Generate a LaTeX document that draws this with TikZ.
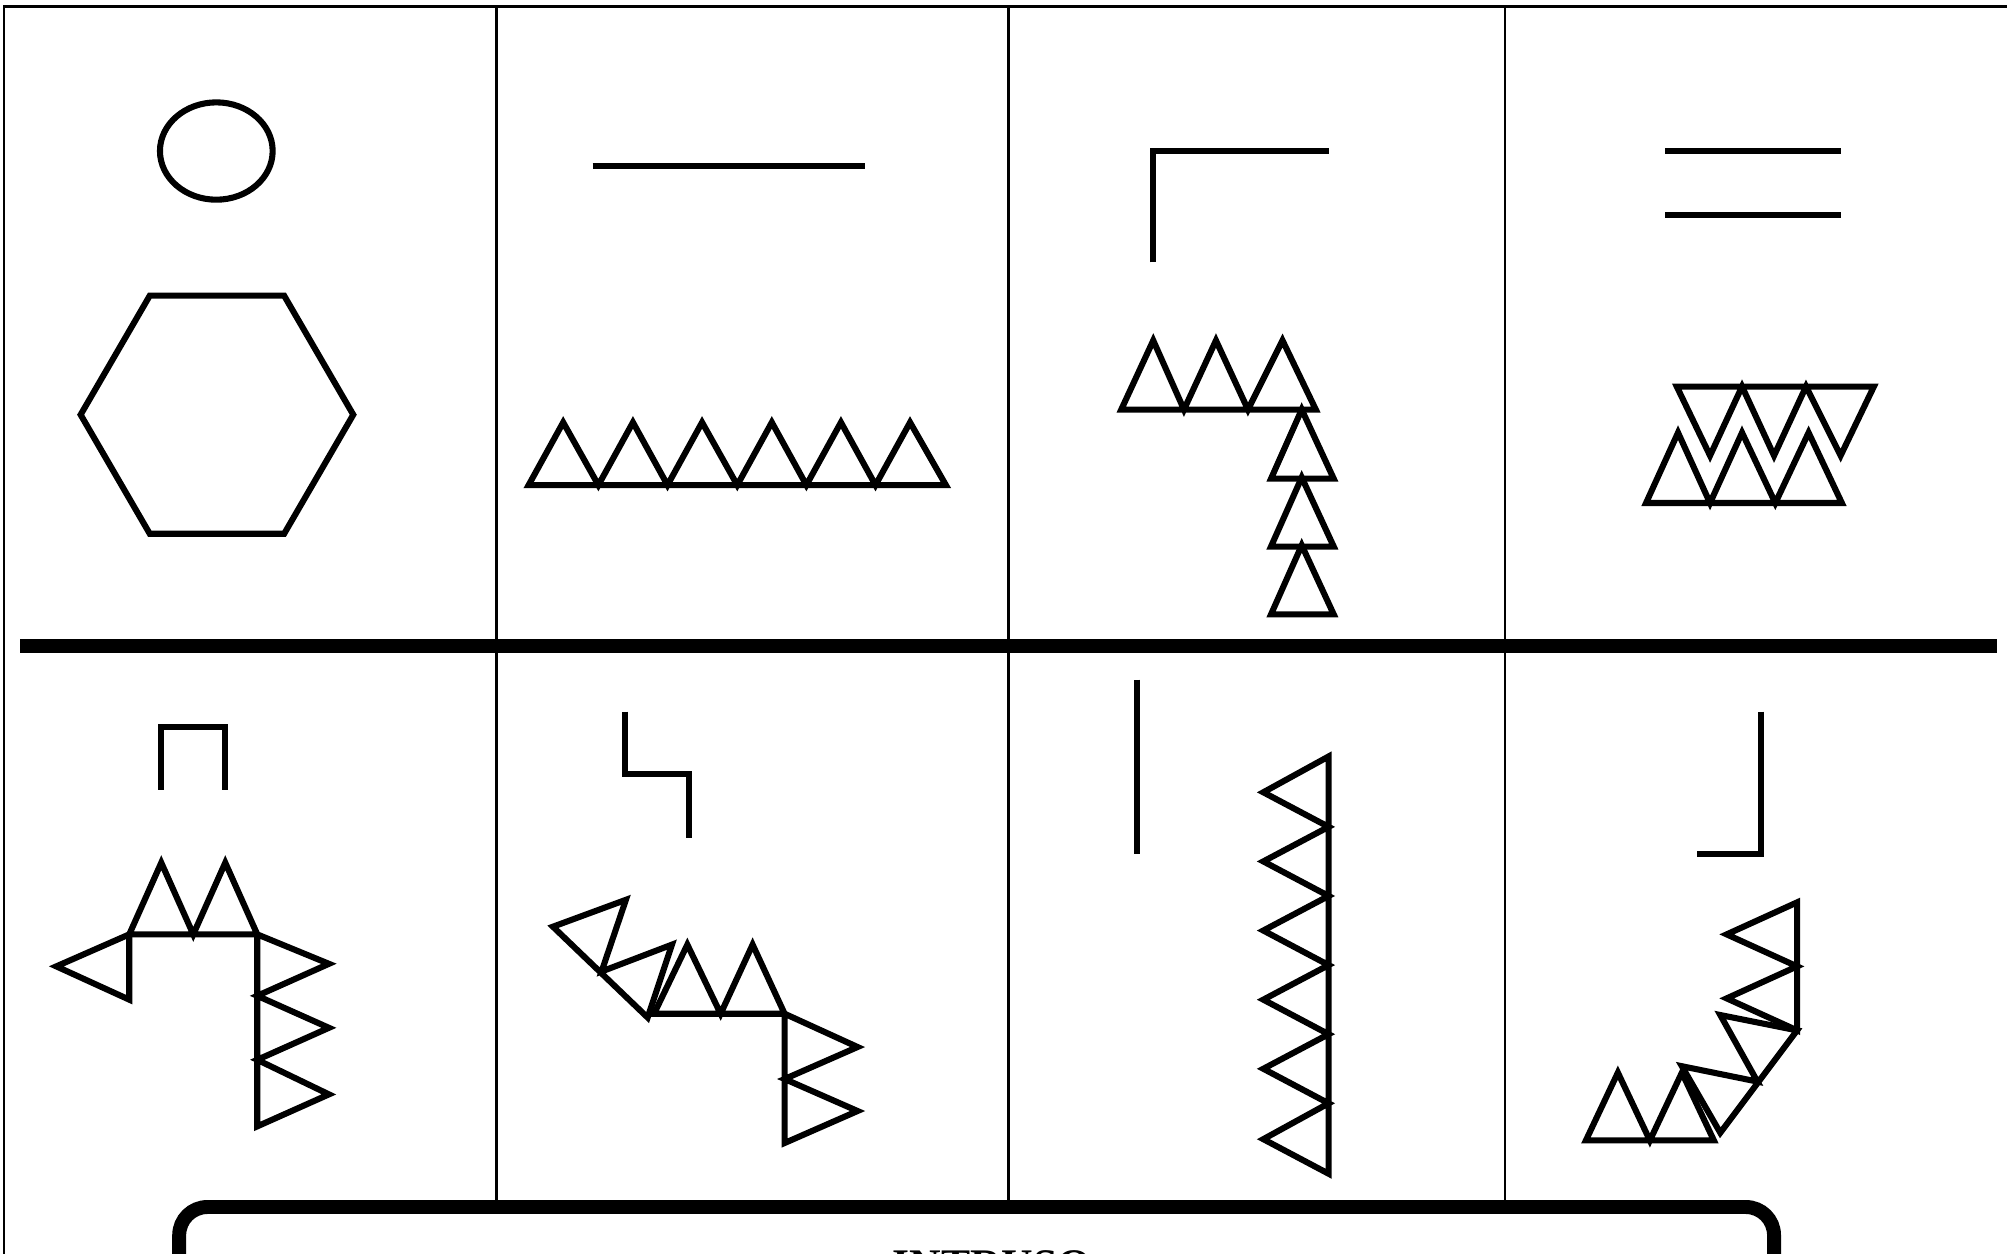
\documentclass[tikz,border=0pt]{standalone}
\usepackage{fontspec}
\setmainfont{Liberation Serif}
\begin{document}
\begin{tikzpicture}[
        x=0.01cm, y=-0.01cm,
        grid/.style={line width=0.55pt},
        bar/.style={line width=3.1pt},
        glyph/.style={line width=1.35pt},
        answer/.style={line width=3.1pt, rounded corners=0.22cm},
        label/.style={anchor=north, inner sep=0pt, font=\fontsize{9.7}{11}\selectfont\bfseries}
    ]
        \useasboundingbox (0,0) rectangle (1568,979);
        \clip (0,0) rectangle (1568,979);

        \draw[grid] (3,1000) -- (3,5) -- (1600,5);
        \draw[grid] (388,5) -- (388,943);
        \draw[grid] (788,5) -- (788,943);
        \draw[grid] (1176,5) -- (1176,943);
        \draw[bar] (16,505) -- (1560,505);

        \draw[glyph] (169,118) ellipse [x radius=0.44cm, y radius=0.38cm];
        \draw[glyph] (117,231) -- (222,231) -- (276,324) -- (222,417) -- (117,417) -- (63,324) -- cycle;

        \draw[glyph] (463,130) -- (676,130);
        \draw[glyph] (413,379) -- (440,330) -- (467.5,379) -- (494.5,330) -- (521.5,379) -- (548.5,330) -- (576,379)
            -- (603,330) -- (630,379) -- (657,330) -- (684,379) -- (711,330) -- (739,379) -- cycle;

        \draw[glyph] (901,205) -- (901,118) -- (1038,118);
        \draw[glyph] (876,320) -- (901,266) -- (925,320) -- (950,266) -- (975,320) -- (1002,266) -- (1028,320) -- cycle;
        \draw[glyph] (993,374) -- (1017,320) -- (1042,374) -- cycle;
        \draw[glyph] (993,427) -- (1017,373) -- (1042,427) -- cycle;
        \draw[glyph] (993,480) -- (1017,426) -- (1042,480) -- cycle;

        \draw[glyph] (1301,118) -- (1438,118);
        \draw[glyph] (1301,168) -- (1438,168);
        \draw[glyph] (1310,302) -- (1336,356) -- (1361,302) -- (1386,356) -- (1411,302) -- (1438,356) -- (1464,302) -- cycle;
        \draw[glyph] (1286,393) -- (1311,338) -- (1336,393) -- (1361,338) -- (1387,393) -- (1413,338) -- (1439,393) -- cycle;

        \draw[glyph] (126,617) -- (126,568) -- (176,568) -- (176,617);
        \draw[glyph] (101,730) -- (126,674) -- (151,730) -- (176,674) -- (201,730) -- cycle;
        \draw[glyph] (101,730) -- (44,755) -- (101,781) -- cycle;
        \draw[glyph] (201,730) -- (257,753) -- (201,778) -- (257,803) -- (201,828) -- (257,855) -- (201,880) -- cycle;

        \draw[glyph] (488,556) -- (488,605) -- (538,605) -- (538,655);
        \draw[glyph] (511,792) -- (537,738) -- (563,792) -- (588,738) -- (613,792) -- cycle;
        \draw[glyph] (613,792) -- (670,818) -- (613,843) -- (670,868) -- (613,893) -- cycle;
        \draw[glyph] (432,724) -- (489,703) -- (470,759) -- (525,738) -- (506,795) -- cycle;

        \draw[glyph] (888,531) -- (888,667);
        \draw[glyph] (1038,591) -- (987,619) -- (1038,646) -- (987,673) -- (1038,700) -- (987,727) -- (1038,754)
            -- (987,781) -- (1038,808) -- (987,835) -- (1038,862) -- (987,890) -- (1038,917) -- cycle;

        \draw[glyph] (1376,556) -- (1376,667) -- (1326,667);
        \draw[glyph] (1404,705) -- (1349,730) -- (1404,755) -- (1349,780) -- (1404,805) -- cycle;
        \draw[glyph] (1404,805) -- (1344,793) -- (1373,845) -- (1314,833) -- (1344,885) -- cycle;
        \draw[glyph] (1239,891) -- (1264,838) -- (1289,891) -- (1314,838) -- (1339,891) -- cycle;

        \draw[answer] (140,1100) -- (140,943) -- (1386,943) -- (1386,1100);
        \node[label] (intruso) at (775,976) {INTRUSO};
    \end{tikzpicture}
\end{document}
